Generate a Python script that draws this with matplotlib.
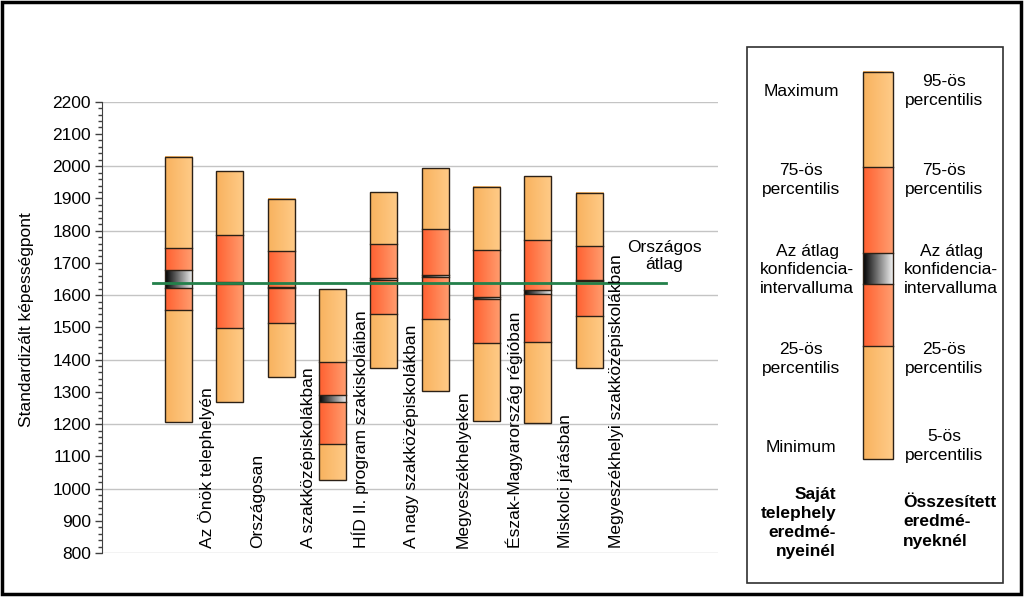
import numpy as np
import matplotlib
matplotlib.use("Agg")
import matplotlib.pyplot as plt
from matplotlib.colors import LinearSegmentedColormap
from matplotlib.patches import Rectangle
from matplotlib.ticker import MultipleLocator
import matplotlib.transforms as mtransforms

plt.rcParams['font.family'] = ['Liberation Sans', 'DejaVu Sans']

# ---------------- data ----------------
categories = ["Az Önök telephelyén", "Országosan", "A szakközépiskolákban",
              "HÍD II. program szakiskoláiban", "A nagy szakközépiskolákban",
              "Megyeszékhelyeken", "Észak-Magyarország régióban",
              "Miskolci járásban", "Megyeszékhelyi szakközépiskolákban"]
max_vals = [2029, 1985, 1898, 1618, 1920, 1993, 1935, 1968, 1916]
q75_vals = [1745, 1788, 1736, 1394, 1760, 1804, 1739, 1771, 1751]
ci_hi = [1677, 1641, 1625, 1289, 1652, 1663, 1595, 1617, 1648]
ci_lo = [1623, 1636, 1621, 1268, 1646, 1657, 1588, 1603, 1644]
q25_vals = [1553, 1499, 1512, 1138, 1540, 1525, 1450, 1455, 1535]
min_vals = [1206, 1268, 1345, 1026, 1373, 1302, 1208, 1202, 1373]
national_avg = 1638
yticks = list(range(800, 2201, 100))

# ---------------- styles ----------------
LIGHT = ("#F8B25E", "#FFCB88")
RED = ("#FF6030", "#FF9E70")
CI = ("#000000", "#F0F0F0")
EDGE = "#2b2016"

def grad(ax, x0, x1, y0, y1, cols, z=2):
    cmap = LinearSegmentedColormap.from_list("g", list(cols))
    ax.imshow(np.linspace(0, 1, 128)[None, :], extent=[x0, x1, y0, y1],
              cmap=cmap, aspect='auto', origin='lower',
              interpolation='bilinear', zorder=z)

fig = plt.figure(figsize=(10.24, 5.97), dpi=100)
ax = fig.add_axes([102/1024, 1-553/597, 616/1024, (553-101.7)/597])

bw = 0.53
for i in range(len(categories)):
    x0, x1 = i - bw/2, i + bw/2
    segs = [(min_vals[i], q25_vals[i], LIGHT),
            (q25_vals[i], ci_lo[i], RED),
            (ci_lo[i], ci_hi[i], CI),
            (ci_hi[i], q75_vals[i], RED),
            (q75_vals[i], max_vals[i], LIGHT)]
    for lo, hi, c in segs:
        grad(ax, x0, x1, lo, hi, c, z=2)
    for v in [q25_vals[i], ci_lo[i], ci_hi[i], q75_vals[i]]:
        ax.plot([x0, x1], [v, v], color=EDGE, lw=1.0, zorder=3)
    ax.add_patch(Rectangle((x0, min_vals[i]), bw, max_vals[i]-min_vals[i],
                           fill=False, ec=EDGE, lw=1.0, zorder=4))

ax.plot([-0.5, 9.5], [national_avg, national_avg], color="#23804A", lw=2.0, zorder=5)
ax.text(9.46, 1721, "Országos\nátlag", ha='center', va='center', fontsize=12.5,
        linespacing=1.2, zorder=6)

trans = mtransforms.blended_transform_factory(ax.transData, ax.transAxes)
for i, lab in enumerate(categories):
    ax.text(i + 0.54, 0.011, lab, rotation=90, ha='center', va='bottom',
            fontsize=12.5, transform=trans, zorder=6)

ax.set_xlim(-1.49, 10.51)
ax.set_ylim(800, 2200)
ax.set_yticks(yticks)
ax.yaxis.set_minor_locator(MultipleLocator(20))
for g in range(800, 2201, 200):
    ax.axhline(g, color="#C4C4C4", lw=1.0, zorder=1)
ax.set_xticks([])
for s in ['top', 'right', 'bottom']:
    ax.spines[s].set_visible(False)
ax.spines['left'].set_color("#404040")
ax.tick_params(axis='y', which='major', length=5, width=1, color="#404040",
               labelsize=12.5, pad=3)
ax.tick_params(axis='y', which='minor', length=3, width=1, color="#404040")
ax.set_facecolor('none')

fig.text(27/1024, 1-320/597, "Standardizált képességpont", rotation=90,
         ha='center', va='center', fontsize=12.5)

# ---------------- legend / frame overlay ----------------
ov = fig.add_axes([0, 0, 1, 1], zorder=-1)
ov.set_xlim(0, 1024)
ov.set_ylim(597, 0)
ov.axis('off')
ov.add_patch(Rectangle((1.5, 1.5), 1019.5, 592, fill=False, ec='black', lw=2.5))

lg = fig.add_axes([0, 0, 1, 1], zorder=3)
lg.set_xlim(0, 1024)
lg.set_ylim(597, 0)
lg.axis('off')
lg.add_patch(Rectangle((747, 47), 256, 536, fill=False, ec='#303030', lw=1.2))
lx0, lx1 = 863, 893
lb = [459, 346, 284, 253, 167, 71.5]
lcols = [LIGHT, RED, CI, RED, LIGHT]
for k in range(5):
    grad(lg, lx0, lx1, lb[k], lb[k+1], lcols[k], z=2)
for v in lb[1:-1]:
    lg.plot([lx0, lx1], [v, v], color=EDGE, lw=1.0, zorder=3)
lg.add_patch(Rectangle((lx0, lb[-1]), lx1-lx0, lb[0]-lb[-1], fill=False,
                       ec=EDGE, lw=1.0, zorder=4))
lg.set_xlim(0, 1024)
lg.set_ylim(597, 0)

left_txt = [("Maximum", 801, 92), ("75-ös\npercentilis", 801, 180),
            ("Az átlag\nkonfidencia-\nintervalluma", 807, 270),
            ("25-ös\npercentilis", 801, 359), ("Minimum", 801, 447)]
right_txt = [("95-ös\npercentilis", 944, 91), ("75-ös\npercentilis", 944, 180),
             ("Az átlag\nkonfidencia-\nintervalluma", 951, 270),
             ("25-ös\npercentilis", 944, 359), ("5-ös\npercentilis", 944, 446)]
for t, x, y in left_txt + right_txt:
    lg.text(x, y, t, ha='center', va='center', fontsize=12.5, linespacing=1.3)
lg.text(836, 523, "Saját\ntelephely\neredmé-\nnyeinél", ha='right', va='center',
        fontsize=12.5, fontweight='bold', linespacing=1.35)
lg.text(903, 522, "Összesített\neredmé-\nnyeknél", ha='left', va='center',
        fontsize=12.5, fontweight='bold', linespacing=1.35)

fig.savefig("out.png", dpi=100)
